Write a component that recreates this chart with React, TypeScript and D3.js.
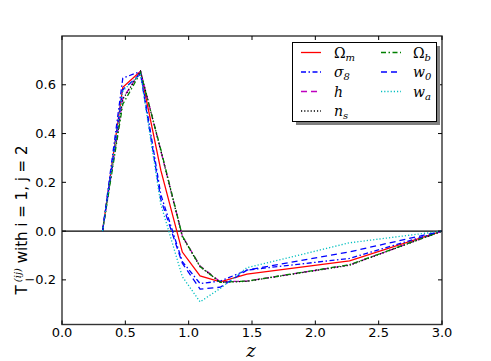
import React from "react";
import * as d3 from "d3";

const zGrid = [0.32, 0.48, 0.62, 0.78, 0.95, 1.09, 1.25, 1.46, 2.27, 3.0];
const omegaM = [0, 0.59, 0.655, 0.25, -0.086, -0.184, -0.208, -0.176, -0.122, 0];
const sigma8 = [0, 0.627, 0.655, 0.15, -0.125, -0.215, -0.205, -0.16, -0.112, 0];
const hParam = [0, 0.545, 0.655, 0.33, -0.02, -0.143, -0.208, -0.205, -0.139, 0];
const nS = [0, 0.54, 0.655, 0.33, -0.023, -0.146, -0.21, -0.206, -0.14, 0];
const omegaB = [0, 0.52, 0.65, 0.335, -0.02, -0.145, -0.21, -0.205, -0.138, 0];
const w0 = [0, 0.58, 0.645, 0.13, -0.132, -0.238, -0.23, -0.16, -0.085, 0];
const wa = [0, 0.575, 0.645, 0.11, -0.187, -0.29, -0.235, -0.15, -0.048, 0];

const xTicks = [0.0, 0.5, 1.0, 1.5, 2.0, 2.5, 3.0];
const yTicks = [-0.2, 0.0, 0.2, 0.4, 0.6];

type S = { key: string; sym: string; sub: string; vals: number[]; color: string; dash: string };
const series: S[] = [
  { key: "om", sym: "Ω", sub: "m", vals: omegaM, color: "#ff0000", dash: "" },
  { key: "s8", sym: "σ", sub: "8", vals: sigma8, color: "#0000ff", dash: "5,2.5,1.5,2.5" },
  { key: "h", sym: "h", sub: "", vals: hParam, color: "#bf00bf", dash: "6,4" },
  { key: "ns", sym: "n", sub: "s", vals: nS, color: "#000000", dash: "1.2,2" },
  { key: "ob", sym: "Ω", sub: "b", vals: omegaB, color: "#008000", dash: "5,2.5,1.5,2.5" },
  { key: "w0", sym: "w", sub: "0", vals: w0, color: "#0000ff", dash: "6,4" },
  { key: "wa", sym: "w", sub: "a", vals: wa, color: "#00bfbf", dash: "1.2,2" },
];

const L = 62, R = 442, T = 36, B = 324.5;

export default function App() {
  const x = d3.scaleLinear().domain([0, 3]).range([L, R]);
  const y = d3.scaleLinear().domain([-0.383, 0.8]).range([B, T]);
  const line = d3
    .line<number>()
    .x((_, i) => x(zGrid[i]))
    .y((v) => y(v));
  const tickFont = { fontFamily: "DejaVu Sans", fontSize: 13, fill: "#000" } as const;
  const legendPos = [
    [0, 0], [0, 1], [0, 2], [0, 3], [1, 0], [1, 1], [1, 2],
  ];
  return (
    <div style={{ position: "absolute", left: 0, top: 0 }}>
      <svg width={491} height={361} style={{ display: "block", background: "#fff" }}>
        <defs>
          <clipPath id="ax">
            <rect x={L} y={T} width={R - L} height={B - T} />
          </clipPath>
        </defs>
        <line x1={L} x2={R} y1={y(0)} y2={y(0)} stroke="#000" strokeWidth={1.2} />
        <g clipPath="url(#ax)">
          {series.map((s) => (
            <path
              key={s.key}
              d={line(s.vals) || ""}
              fill="none"
              stroke={s.color}
              strokeWidth={1.3}
              strokeDasharray={s.dash || undefined}
            />
          ))}
        </g>
        <rect x={L} y={T} width={R - L} height={B - T} fill="none" stroke="#333" strokeWidth={1.4} />
        {xTicks.map((t) => (
          <g key={"x" + t}>
            <line x1={x(t)} x2={x(t)} y1={B} y2={B - 4} stroke="#000" />
            <line x1={x(t)} x2={x(t)} y1={T} y2={T + 4} stroke="#000" />
            <text x={x(t)} y={337} textAnchor="middle" {...tickFont}>
              {t.toFixed(1)}
            </text>
          </g>
        ))}
        {yTicks.map((t) => (
          <g key={"y" + t}>
            <line x1={L} x2={L + 4} y1={y(t)} y2={y(t)} stroke="#000" />
            <line x1={R} x2={R - 4} y1={y(t)} y2={y(t)} stroke="#000" />
            <text x={56} y={y(t) + 4.5} textAnchor="end" {...tickFont}>
              {t < 0 ? "\u2212" + Math.abs(t).toFixed(1) : t.toFixed(1)}
            </text>
          </g>
        ))}
        <text x={251} y={357} textAnchor="middle" fontFamily="DejaVu Serif" fontStyle="italic" fontSize={18}>
          z
        </text>
        <text
          transform={`translate(27,${220}) rotate(-90)`}
          textAnchor="middle"
          fontFamily="DejaVu Sans"
          fontSize={15}
        >
          <tspan>T</tspan>
          <tspan dy={-6} fontSize={10} fontFamily="DejaVu Serif" fontStyle="italic">{" (ij)"}</tspan>
          <tspan dy={6}>{" with i = 1, j = 2"}</tspan>
        </text>
        <rect x={296} y={46} width={144} height={79} fill="#808080" />
        <rect x={292.5} y={42.5} width={144} height={79} fill="#fff" stroke="#000" strokeWidth={1} />
        {series.map((s, i) => {
          const [c, r] = legendPos[i];
          const lx = c === 0 ? 301 : 381;
          const tx = c === 0 ? 334 : 413;
          const ly = 52.5 + r * 19.5;
          return (
            <g key={"lg" + s.key}>
              <line
                x1={lx}
                x2={lx + 20}
                y1={ly}
                y2={ly}
                stroke={s.color}
                strokeWidth={1.3}
                strokeDasharray={s.dash || undefined}
              />
              <text x={tx} y={ly + 5} fontFamily="DejaVu Serif" fontSize={14}>
                <tspan fontStyle={s.sym === "Ω" ? "normal" : "italic"}>{s.sym}</tspan>
                {s.sub && (
                  <tspan dy={3} fontSize={10} fontStyle="italic">
                    {s.sub}
                  </tspan>
                )}
              </text>
            </g>
          );
        })}
      </svg>
    </div>
  );
}
